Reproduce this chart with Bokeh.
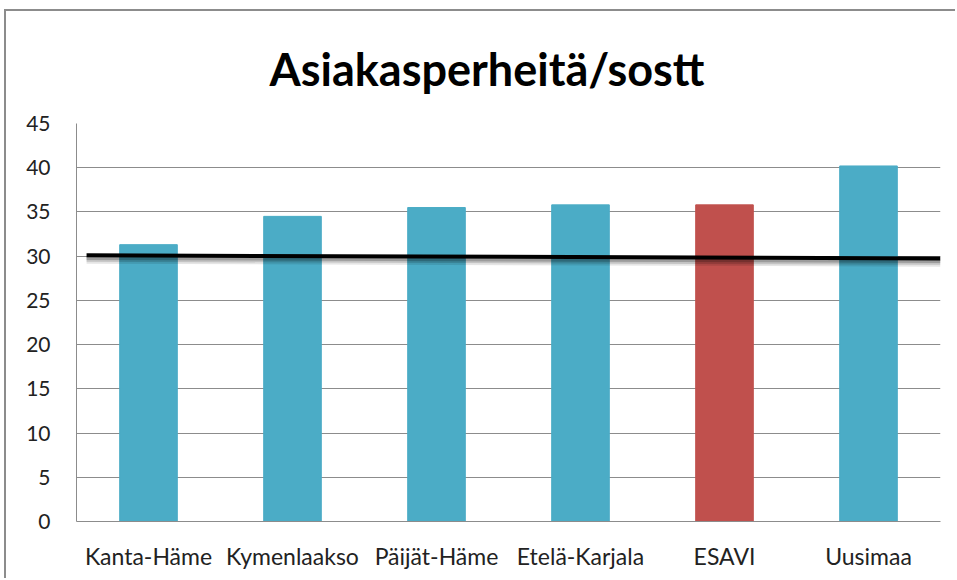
from bokeh.plotting import figure
from bokeh.models import FactorRange, Range1d, SingleIntervalTicker, ColumnDataSource
from bokeh.embed import file_html
from bokeh.resources import INLINE

categories = ["Kanta-Häme", "Kymenlaakso", "Päijät-Häme", "Etelä-Karjala", "ESAVI", "Uusimaa"]
values = [31.3, 34.5, 35.5, 35.8, 35.8, 40.2]
colors = ["#4BACC6", "#4BACC6", "#4BACC6", "#4BACC6", "#C0504D", "#4BACC6"]
ref_x = [("Kanta-Häme", -0.43), ("Uusimaa", 0.5)]
ref_y = [30.1, 29.75]
y_ticks_step = 5
y_max = 45

p = figure(width=951, height=569, output_backend="svg", toolbar_location=None,
           x_range=FactorRange(*categories, range_padding=0),
           y_range=Range1d(0, y_max),
           min_border_left=70, min_border_right=17, min_border_top=112, min_border_bottom=59)
p.title.text = "Asiakasperheitä/sostt"
p.title.align = "left"
p.title.text_font = "Lato"
p.title.text_font_size = "45px"
p.title.text_font_style = "bold"
p.title.text_color = "#000000"
p.title.offset = 193
p.title.standoff = 55

src = ColumnDataSource(dict(x=categories, top=values, color=colors))
p.vbar(x="x", top="top", width=0.4, color="color", source=src)

# shadow of reference line
for off, a, w in [(0.55, 0.10, 7), (0.45, 0.15, 5), (0.35, 0.2, 3)]:
    p.line(x=ref_x, y=[v - off for v in ref_y], line_color="#000000", line_alpha=a, line_width=w)
p.line(x=ref_x, y=ref_y, line_color="#000000", line_width=4)

p.outline_line_color = None
p.xgrid.grid_line_color = None
p.ygrid.grid_line_color = "#8c8c8c"
p.ygrid.grid_line_width = 1
p.yaxis.ticker = SingleIntervalTicker(interval=y_ticks_step)
for ax in (p.xaxis, p.yaxis):
    ax.axis_line_color = "#8c8c8c"
    ax.major_tick_line_color = None
    ax.minor_tick_line_color = None
    ax.major_label_text_font = "Lato"
    ax.major_label_text_color = "#222222"
p.yaxis.major_label_text_font_size = "21px"
p.xaxis.major_label_text_font_size = "23px"
p.yaxis.major_label_standoff = 20
p.xaxis.major_label_standoff = 14
p.background_fill_color = "white"
p.border_fill_color = "white"
p.styles = {"border-left": "2px solid #8c8c8c", "border-top": "2px solid #8c8c8c",
            "margin-left": "4px", "margin-top": "9px"}

open("out.html", "w").write(file_html(p, INLINE))
